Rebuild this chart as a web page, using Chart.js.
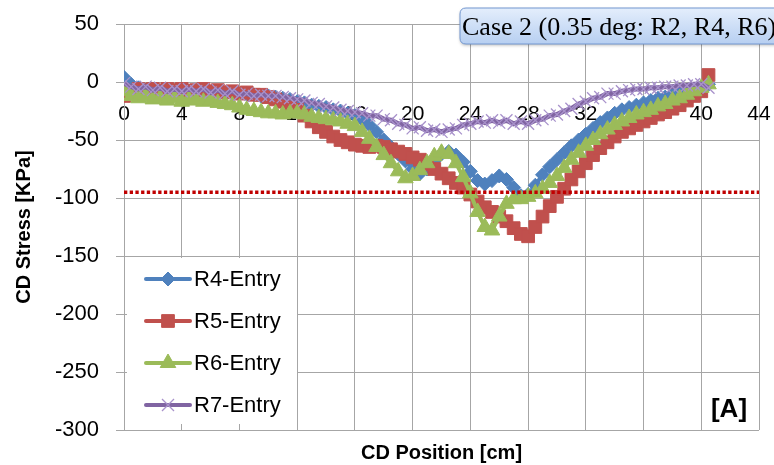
<!DOCTYPE html>
<html>
<head>
<meta charset="utf-8">
<script src="https://cdn.jsdelivr.net/npm/chart.js@4/dist/chart.umd.min.js"></script>
<style>
html,body{margin:0;padding:0;background:#fff;}
#wrap{width:774px;height:465px;}
</style>
</head>
<body>
<div id="wrap"><canvas id="c" width="774" height="465"></canvas></div>
<script>
// ---- data ----
const positions = [0,0.5,1,1.5,2,2.5,3,3.5,4,4.5,5,5.5,6,6.5,7,7.5,8,8.5,9,9.5,
  10,10.5,11,11.5,12,12.5,13,13.5,14,14.5,15,15.5,16,16.5,17,17.5,18,18.5,19,19.5,
  20,20.5,21,21.5,22,22.5,23,23.5,24,24.5,25,25.5,26,26.5,27,27.5,28,28.5,29,29.5,
  30,30.5,31,31.5,32,32.5,33,33.5,34,34.5,35,35.5,36,36.5,37,37.5,38,38.5,39,39.5,
  40,40.5];
const r4Entry = [4,-2,-5,-7,-6,-8,-7,-9,-10,-8,-9,-8,-10,-9,-10,-9,-11,-10,-11,-12,
  -12,-13,-14,-15,-17,-18,-20,-21,-22,-24,-25,-27,-29,-32,-37,-43,-50,-56,-62,-68,
  -75,-79,-75,-68,-62,-60,-63,-69,-77,-85,-88,-85,-81,-84,-91,-98,-97,-89,-80,-73,
  -67,-61,-55,-50,-45,-40,-35,-31,-27,-24,-22,-20,-18,-16,-14,-13,-11,-9,-8,-6,
  -4,-2];
const r5Entry = [-12,-9,-6,-7,-6,-8,-6,-7,-6,-8,-7,-6,-8,-7,-9,-8,-10,-9,-11,-11,
  -13,-15,-17,-20,-24,-29,-34,-39,-43,-47,-50,-52,-54,-55,-56,-55,-56,-58,-60,-62,
  -65,-67,-71,-75,-79,-83,-87,-91,-97,-103,-108,-112,-116,-120,-126,-131,-133,-125,-116,-107,
  -99,-92,-84,-77,-70,-63,-57,-52,-47,-43,-40,-37,-34,-31,-28,-26,-23,-20,-16,-12,
  -8,6];
const r6Entry = [-8,-12,-14,-12,-15,-14,-16,-14,-17,-15,-16,-17,-16,-18,-19,-20,-22,-24,-25,-26,
  -27,-27,-28,-27,-27,-28,-30,-31,-32,-33,-34,-36,-38,-43,-49,-56,-63,-70,-77,-83,
  -81,-76,-70,-64,-61,-62,-70,-82,-96,-112,-125,-128,-116,-105,-101,-101,-99,-96,-92,-87,
  -81,-74,-67,-61,-55,-50,-45,-41,-37,-34,-31,-28,-26,-24,-21,-19,-16,-14,-11,-8,
  -5,-2];
const r7Entry = [-1,-4,-6,-4,-7,-5,-8,-6,-8,-6,-8,-6,-9,-7,-10,-8,-11,-10,-12,-11,
  -12,-12,-13,-14,-15,-16,-18,-19,-21,-22,-24,-25,-26,-27,-29,-29,-32,-33,-36,-37,
  -40,-39,-42,-41,-43,-41,-40,-37,-36,-34,-35,-33,-35,-33,-36,-34,-36,-33,-32,-29,
  -28,-25,-23,-19,-17,-14,-13,-10,-10,-8,-7,-6,-6,-5,-5,-4,-4,-3,-3,-2,
  -2,-5];
const limitPositions = [0, 44];
const limitValues = [-95, -95];
const seriesNames = ['R4-Entry','R5-Entry','R6-Entry','R7-Entry'];
const xTickStep = 4;
const yTicks = [50,0,-50,-100,-150,-200,-250,-300];
const caseLabel = 'Case 2 (0.35 deg: R2, R4, R6)';
const panelLabel = '[A]';

// ---- styles ----
const colors = ['#4F81BD','#C0504D','#9BBB59','#8064A2'];
const styles = [
  {pointStyle:'rectRot', radius:7, border:'#4F81BD', bw:1},
  {pointStyle:'rect', radius:9, border:'#C0504D', bw:1},
  {pointStyle:'triangle', radius:9, border:'#9BBB59', bw:1},
  {pointStyle:'crossRot', radius:8.5, border:'#A892CB', bw:1.3}
];
const allSeries = [r4Entry, r5Entry, r6Entry, r7Entry];

Chart.defaults.font.family = "'Liberation Sans', Arial, sans-serif";
Chart.defaults.color = '#000';

const datasets = allSeries.map((vals, i) => ({
  label: seriesNames[i],
  data: positions.map((p, k) => ({x: p, y: vals[k]})),
  borderColor: colors[i],
  backgroundColor: colors[i],
  borderWidth: i === 3 ? 5 : 4,
  tension: 0,
  pointStyle: styles[i].pointStyle,
  pointRadius: styles[i].radius,
  pointBorderColor: styles[i].border,
  pointBackgroundColor: colors[i],
  pointBorderWidth: styles[i].bw,
  order: 4 - i
}));
datasets.push({
  label: 'limit',
  data: limitPositions.map((p, k) => ({x: p, y: limitValues[k]})),
  borderColor: '#C00000',
  borderWidth: 3.5,
  borderDash: [3.3, 2.4],
  borderCapStyle: 'butt',
  pointRadius: 0,
  order: 0
});

const GRID = '#a6a6a6';

const overlay = {
  id: 'overlay',
  afterDraw(chart) {
    const ctx = chart.ctx;
    ctx.save();
    // legend box (inside plot)
    ctx.fillStyle = '#fff';
    ctx.fillRect(127, 258, 170, 166);
    const ys = [279, 321, 363, 405];
    for (let i = 0; i < 4; i++) {
      const y = ys[i];
      ctx.strokeStyle = colors[i];
      ctx.lineWidth = 4;
      ctx.lineCap = 'round';
      ctx.beginPath(); ctx.moveTo(146, y); ctx.lineTo(190, y); ctx.stroke();
      ctx.lineCap = 'butt';
      ctx.fillStyle = colors[i];
      ctx.strokeStyle = styles[i].border;
      ctx.lineWidth = styles[i].bw;
      Chart.helpers.drawPoint(ctx, {pointStyle: styles[i].pointStyle, radius: styles[i].radius, rotation: 0, borderWidth: styles[i].bw}, 168, y);
      ctx.fillStyle = '#000';
      ctx.font = "22px 'Liberation Sans', Arial, sans-serif";
      ctx.textBaseline = 'middle';
      ctx.textAlign = 'left';
      ctx.fillText(seriesNames[i], 194, y + 1);
    }
    // panel label
    ctx.font = "bold 26px 'Liberation Sans', Arial, sans-serif";
    ctx.textAlign = 'center';
    ctx.fillText(panelLabel, 729, 410);
    // case box
    const bx = 460, by = 8, bw = 340, bh = 36, r = 6;
    ctx.shadowColor = 'rgba(0,0,0,0.25)';
    ctx.shadowBlur = 3; ctx.shadowOffsetY = 1.5;
    const g = ctx.createLinearGradient(0, by, 0, by + bh);
    g.addColorStop(0, '#e4eefc');
    g.addColorStop(1, '#b7cff1');
    ctx.fillStyle = g;
    ctx.beginPath();
    ctx.moveTo(bx + r, by);
    ctx.lineTo(bx + bw, by);
    ctx.lineTo(bx + bw, by + bh);
    ctx.lineTo(bx + r, by + bh);
    ctx.quadraticCurveTo(bx, by + bh, bx, by + bh - r);
    ctx.lineTo(bx, by + r);
    ctx.quadraticCurveTo(bx, by, bx + r, by);
    ctx.closePath();
    ctx.fill();
    ctx.shadowColor = 'transparent';
    ctx.strokeStyle = '#7397d0';
    ctx.lineWidth = 1;
    ctx.stroke();
    ctx.fillStyle = '#000';
    ctx.font = "26px 'Liberation Serif', 'Times New Roman', serif";
    ctx.textAlign = 'left';
    ctx.textBaseline = 'alphabetic';
    ctx.fillText(caseLabel, 462, 35);
    ctx.restore();
  }
};

new Chart(document.getElementById('c'), {
  type: 'line',
  data: {datasets},
  options: {
    responsive: false,
    devicePixelRatio: 1,
    animation: false,
    layout: {padding: {top: 24, right: 15, left: 0, bottom: 0}},
    plugins: {legend: {display: false}, tooltip: {enabled: false}},
    scales: {
      x: {
        type: 'linear',
        min: 0, max: 44,
        position: {y: 0},
        ticks: {stepSize: xTickStep, font: {size: 21}, color: '#000', padding: 20, maxRotation: 0},
        grid: {color: GRID, drawTicks: false},
        border: {display: false},
        afterFit: s => { s.paddingLeft = 0; s.paddingRight = 0; }
      },
      x2: {
        type: 'linear',
        min: 0, max: 44,
        position: 'bottom',
        ticks: {display: false},
        grid: {display: false, drawTicks: false},
        border: {display: false},
        title: {display: true, text: 'CD Position [cm]', font: {size: 20, weight: 'bold'}, color: '#000', padding: {top: 4, bottom: 0}},
        afterFit: s => { s.height = 35; s.paddingLeft = 0; s.paddingRight = 0; }
      },
      y: {
        type: 'linear',
        min: -300, max: 50,
        afterBuildTicks: s => { s.ticks = yTicks.map(v => ({value: v})); },
        ticks: {font: {size: 22}, color: '#000', padding: 17},
        grid: {color: GRID, tickLength: 8},
        border: {color: GRID},
        title: {display: true, text: 'CD Stress [KPa]', font: {size: 20, weight: 'bold'}, color: '#000', padding: {top: 12, bottom: 0}},
        afterFit: s => { s.width = 124; s.paddingTop = 0; s.paddingBottom = 0; }
      }
    }
  },
  plugins: [overlay]
});
</script>
</body>
</html>
